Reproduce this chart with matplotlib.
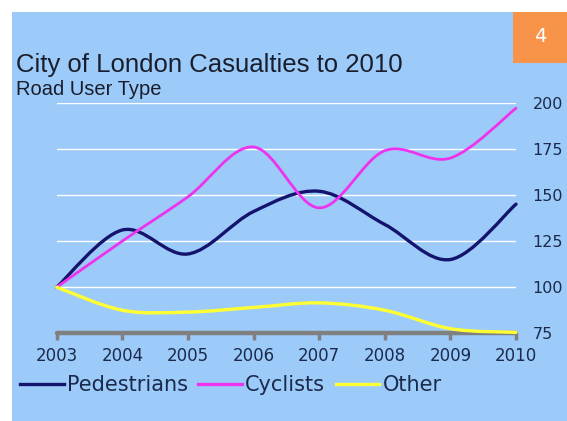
import numpy as np
import matplotlib
matplotlib.use("Agg")
import matplotlib.pyplot as plt
from matplotlib.path import Path
from matplotlib.patches import PathPatch, Rectangle
from matplotlib.lines import Line2D

# Casualties indexed to 2003 = 100
years = [2003, 2004, 2005, 2006, 2007, 2008, 2009, 2010]
pedestrians = [100, 131, 118, 141, 152, 134, 115, 145]
cyclists = [100, 125, 149, 176, 143, 174, 170, 197]
other = [100, 87.5, 86.5, 89, 91.5, 87.5, 77.5, 75.5]

series_names = ["Pedestrians", "Cyclists", "Other"]
series_values = [pedestrians, cyclists, other]
series_colors = ["#14146e", "#ee33ee", "#ffff33"]
series_widths = [2.4, 2.0, 2.4]

y_ticks = [75, 100, 125, 150, 175, 200]

text_col = "#1b2a4a"
panel_col = "#9ccbfa"
axis_col = "#808080"


def smooth_path(xs, ys):
    # Bezier segments through every point, like a smoothed office chart line
    pts = np.column_stack([xs, ys]).astype(float)
    n = len(pts)
    verts = [pts[0]]
    codes = [Path.MOVETO]
    for i in range(n - 1):
        p0 = pts[max(i - 1, 0)]
        p1 = pts[i]
        p2 = pts[i + 1]
        p3 = pts[min(i + 2, n - 1)]
        verts += [p1 + (p2 - p0) / 6, p2 - (p3 - p1) / 6, p2]
        codes += [Path.CURVE4] * 3
    return Path(verts, codes)


fig = plt.figure(figsize=(5.67, 4.21), dpi=100)
fig.patch.set_facecolor("white")
fig.patches.append(Rectangle((12 / 567, 0), 1, (421 - 12) / 421,
                             transform=fig.transFigure, facecolor=panel_col,
                             edgecolor="none", zorder=-2))
# orange badge in the corner
fig.patches.append(Rectangle((513 / 567, (421 - 63) / 421), 54 / 567, 51 / 421,
                             transform=fig.transFigure, facecolor="#f7944a",
                             edgecolor="none", zorder=-1))
fig.text(540 / 567, (421 - 37) / 421, "4", color="white", fontsize=14,
         ha="center", va="center", family="DejaVu Sans")

ax = fig.add_axes([56.7 / 567, (421 - 333.3) / 421, 459.3 / 567, 230.6 / 421])
ax.set_facecolor("none")
ax.set_zorder(2)

for y in y_ticks[1:]:
    ax.axhline(y, color="white", lw=1.0, zorder=1)

for vals, col, lw in zip(series_values, series_colors, series_widths):
    ax.add_patch(PathPatch(smooth_path(years, vals), fill=False, edgecolor=col,
                           lw=lw, capstyle="round", joinstyle="round",
                           zorder=3, clip_on=False))

ax.set_xlim(years[0], years[-1])
ax.set_ylim(75, 200)
ax.set_xticks(years)
ax.set_xticklabels([str(y) for y in years])
ax.set_yticks(y_ticks)
ax.yaxis.tick_right()

for side in ["top", "left", "right"]:
    ax.spines[side].set_visible(False)
ax.spines["bottom"].set_color(axis_col)
ax.spines["bottom"].set_linewidth(3.2)
ax.spines["bottom"].set_capstyle("round")
ax.spines["bottom"].set_zorder(2)

# short grey stubs under the axis line at every year
ax.vlines(years, -0.03, 0, transform=ax.get_xaxis_transform(), colors=axis_col,
          lw=2.5, clip_on=False, zorder=2)

ax.tick_params(axis="x", length=0, pad=10, labelsize=12, labelcolor=text_col)
ax.tick_params(axis="y", length=0, pad=12, labelsize=11.5, labelcolor=text_col)

fig.text(16 / 567, (421 - 72) / 421, "City of London Casualties to 2010",
         family="Liberation Sans", fontsize=18.5, color="#1a1e2c", va="baseline")
fig.text(16 / 567, (421 - 95) / 421, "Road User Type",
         family="Liberation Sans", fontsize=14.5, color="#1a1e2c", va="baseline")

handles = [Line2D([], [], color=c, lw=2.4) for c in series_colors]
fig.legend(handles, series_names, loc="center left",
           bbox_to_anchor=(20 / 567, (421 - 385) / 421), ncol=3, frameon=False,
           fontsize=15, handlelength=2.1, handletextpad=0.15, columnspacing=0.5,
           borderpad=0, borderaxespad=0, labelcolor=text_col)

fig.savefig("out.png", dpi=100)
